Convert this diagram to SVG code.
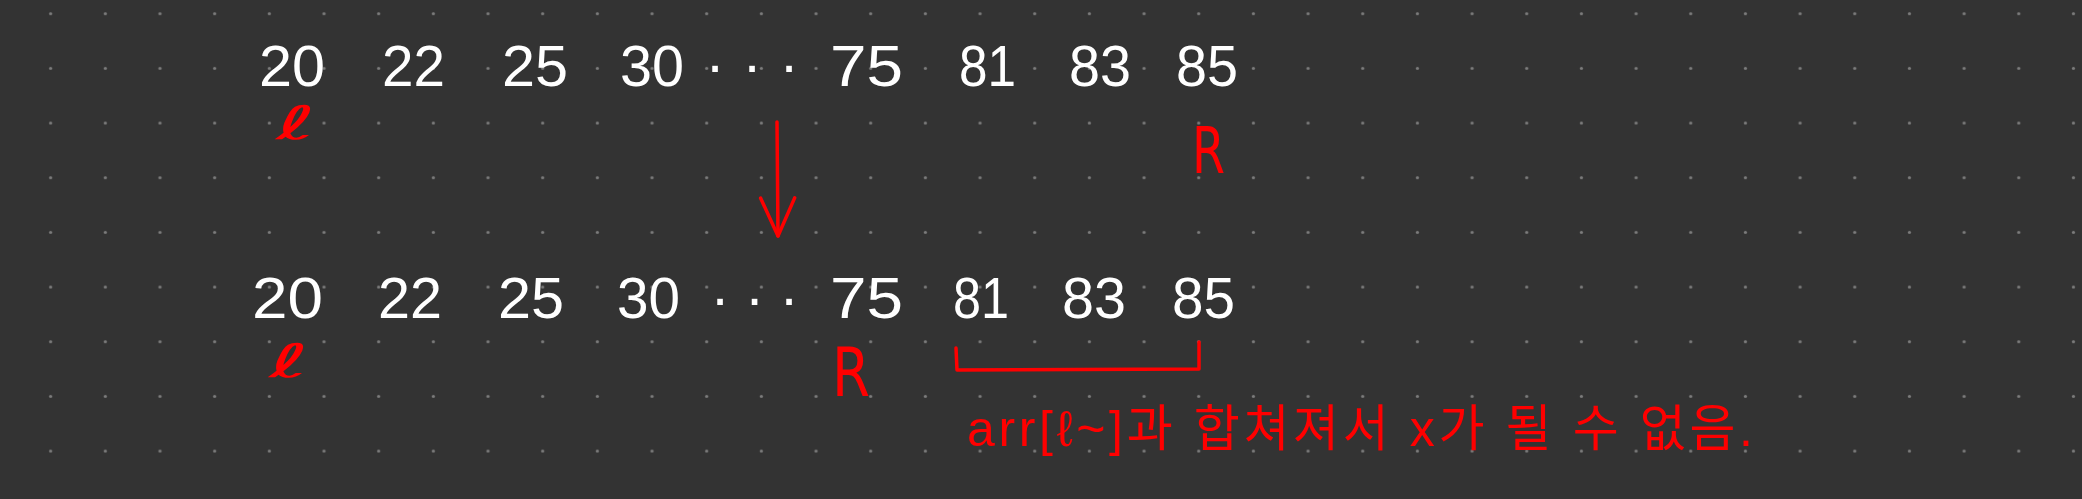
<svg xmlns="http://www.w3.org/2000/svg" width="2082" height="499" viewBox="0 0 2082 499">
<style>
.num{font-family:"Liberation Sans","DejaVu Sans",sans-serif;font-size:58px;fill:#ffffff}
.mk{font-family:"DejaVu Sans","Liberation Sans",sans-serif;fill:#ff0000}
.ell{font-family:"DejaVu Sans",sans-serif;font-size:46px;fill:#ff0000}
.note{font-family:"Liberation Sans","Noto Sans CJK KR",sans-serif;font-size:50px;fill:#ff0000}
.red{stroke:#ff0000;stroke-width:3.5;fill:none;stroke-linecap:round;stroke-linejoin:round}
</style>
<defs>
<pattern id="dots" patternUnits="userSpaceOnUse" x="23.33" y="-13.63" width="54.67" height="54.67">
<circle cx="27.33" cy="27.33" r="1.6" fill="#7c7c7c"/>
</pattern>
<marker id="head" markerUnits="userSpaceOnUse" viewBox="0 0 44 44" markerWidth="44" markerHeight="44" refX="40" refY="22" orient="auto">
<path d="M2,5 L40,22 L2,39" fill="none" stroke="#ff0000" stroke-width="3.5" stroke-linecap="round" stroke-linejoin="round"/>
</marker>
</defs>
<rect width="2082" height="499" fill="#333333"/>
<rect width="2082" height="499" fill="url(#dots)"/>
<g id="row1">
<text class="num" x="259" y="86" textLength="66" lengthAdjust="spacingAndGlyphs">20</text>
<text class="num" x="382" y="86" textLength="63" lengthAdjust="spacingAndGlyphs">22</text>
<text class="num" x="502" y="86" textLength="66" lengthAdjust="spacingAndGlyphs">25</text>
<text class="num" x="620" y="86" textLength="64" lengthAdjust="spacingAndGlyphs">30</text>
<text class="num" x="707" y="72" textLength="90" lengthAdjust="spacing">. . .</text>
<text class="num" x="830" y="86" textLength="73" lengthAdjust="spacingAndGlyphs">75</text>
<text class="num" x="959" y="86" textLength="57" lengthAdjust="spacingAndGlyphs">81</text>
<text class="num" x="1069" y="86" textLength="62" lengthAdjust="spacingAndGlyphs">83</text>
<text class="num" x="1176" y="86" textLength="62" lengthAdjust="spacingAndGlyphs">85</text>
</g>
<g id="row1-pointers">
<text class="ell" x="276" y="139" textLength="40" lengthAdjust="spacingAndGlyphs">ℓ</text>
<text class="mk" x="1192" y="173" font-size="64" textLength="33" lengthAdjust="spacingAndGlyphs">R</text>
</g>
<g id="row2">
<text class="num" x="252" y="318" textLength="71" lengthAdjust="spacingAndGlyphs">20</text>
<text class="num" x="378" y="318" textLength="64" lengthAdjust="spacingAndGlyphs">22</text>
<text class="num" x="498" y="318" textLength="66" lengthAdjust="spacingAndGlyphs">25</text>
<text class="num" x="617" y="318" textLength="63" lengthAdjust="spacingAndGlyphs">30</text>
<text class="num" x="712" y="305" textLength="85" lengthAdjust="spacing">. . .</text>
<text class="num" x="830" y="318" textLength="73" lengthAdjust="spacingAndGlyphs">75</text>
<text class="num" x="953" y="318" textLength="56" lengthAdjust="spacingAndGlyphs">81</text>
<text class="num" x="1062" y="318" textLength="64" lengthAdjust="spacingAndGlyphs">83</text>
<text class="num" x="1172" y="318" textLength="63" lengthAdjust="spacingAndGlyphs">85</text>
</g>
<g id="row2-pointers">
<text class="ell" x="269" y="377" textLength="40" lengthAdjust="spacingAndGlyphs">ℓ</text>
<text class="mk" x="832" y="396" font-size="68" textLength="38" lengthAdjust="spacingAndGlyphs">R</text>
</g>
<g id="connectors">
<line class="red" x1="777" y1="122" x2="778" y2="236" marker-end="url(#head)"/>
<path class="red" d="M956,348 L957,370 L1199,369 L1199,342"/>
</g>
<g id="note">
<text class="note" x="967" y="446" textLength="786" lengthAdjust="spacing">arr[ℓ~]과 합쳐져서 x가 될 수 없음.</text>
</g>
</svg>
